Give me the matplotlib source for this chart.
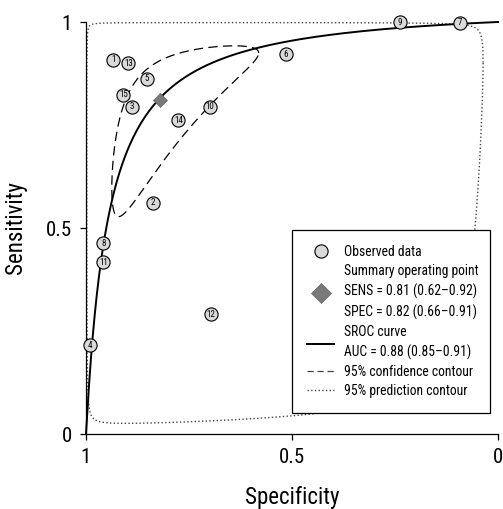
import numpy as np
import matplotlib
matplotlib.use("Agg")
import matplotlib.pyplot as plt
from matplotlib.lines import Line2D
from matplotlib import font_manager as fm

# ---- pick a condensed sans font if one is installed ----
_entries = [(f.name, str(f.stretch)) for f in fm.fontManager.ttflist]
_names = {n for n, _ in _entries}
FONT_FAMILY, FONT_STRETCH, CONDENSED = 'DejaVu Sans', 'normal', False
for cand in ['Liberation Sans Narrow', 'Roboto Condensed', 'Open Sans Condensed',
             'Noto Sans Condensed', 'Arial Narrow', 'Nimbus Sans Narrow']:
    if cand in _names:
        FONT_FAMILY, FONT_STRETCH, CONDENSED = cand, 'normal', True
        break
if not CONDENSED:
    for base in ['Roboto', 'Noto Sans', 'Open Sans', 'DejaVu Sans', 'Lato', 'Inter']:
        for n, st in _entries:
            if n == base and st in ('condensed', 'semi-condensed', '300', '400',
                                     '250', 'extra-condensed'):
                FONT_FAMILY, FONT_STRETCH, CONDENSED = base, st, True
                break
        if CONDENSED:
            break
if not CONDENSED and 'Roboto' in _names:
    FONT_FAMILY = 'Roboto'

plt.rcParams['font.family'] = [FONT_FAMILY, 'DejaVu Sans']
plt.rcParams['font.stretch'] = FONT_STRETCH

# ---- data ----
study_ids = [1, 13, 5, 15, 3, 14, 10, 6, 2, 9, 7, 8, 11, 4, 12]
specificity = [0.934, 0.897, 0.853, 0.909, 0.889, 0.776, 0.699, 0.515, 0.838,
               0.238, 0.092, 0.958, 0.958, 0.990, 0.697]
sensitivity = [0.908, 0.900, 0.862, 0.823, 0.794, 0.762, 0.794, 0.922, 0.561,
               0.999, 0.998, 0.463, 0.417, 0.216, 0.291]

summary_spec = 0.82
summary_sens = 0.81

# SROC model: logit(sens) = sroc_a + sroc_b * logit(1 - spec)
sroc_a = 3.05
sroc_b = 1.03

# contours in logit space (logit FPR, logit sens): radii and correlation
conf_radius_u, conf_radius_v, conf_rho = 1.19, 1.34, 0.79
pred_radius_u, pred_radius_v, pred_rho = 4.8, 5.08, 0.15

tick_vals = [1, 0.5, 0]
tick_labels = ['1', '0.5', '0']

legend_labels = [
    'Observed data',
    'Summary operating point\nSENS = 0.81 (0.62\u20130.92)\nSPEC = 0.82 (0.66\u20130.91)',
    'SROC curve\nAUC = 0.88 (0.85\u20130.91)',
    '95% confidence contour',
    '95% prediction contour',
]


def logit(p):
    return np.log(p / (1 - p))


def expit(x):
    return 1 / (1 + np.exp(-x))


def ellipse(ru, rv, rho, n=400):
    t = np.linspace(0, 2 * np.pi, n)
    u0 = logit(1 - summary_spec)
    v0 = logit(summary_sens)
    u = u0 + ru * np.cos(t)
    v = v0 + rv * (rho * np.cos(t) + np.sqrt(1 - rho ** 2) * np.sin(t))
    return 1 - expit(u), expit(v)


big = 15 if CONDENSED else 13.5
lab = 16.5 if CONDENSED else 14.5
leg_fs = 9.8 if CONDENSED else 8.6
num_fs = 6.5 if CONDENSED else 5.5

fig = plt.figure(figsize=(5.03, 5.09), dpi=100)
ax = fig.add_axes([86 / 503, 1 - 434 / 509, 412 / 503, 412 / 509])

# SROC curve
fpr = np.linspace(1e-5, 1 - 1e-9, 2000)
ax.plot(1 - fpr, expit(sroc_a + sroc_b * logit(fpr)), color='black', lw=1.4,
        zorder=3, clip_on=False)

# confidence contour
cx, cy = ellipse(conf_radius_u, conf_radius_v, conf_rho)
ax.plot(cx, cy, color='black', lw=0.9, dashes=(7.5, 4.2), zorder=3)

# prediction contour
px, py = ellipse(pred_radius_u, pred_radius_v, pred_rho)
ax.plot(px, py, color='#444444', lw=1.0, ls=':', zorder=2, clip_on=False)

# observed data
ax.plot(specificity, sensitivity, 'o', ms=9.5, mfc='#d9d9d9', mec='black',
        mew=0.8, ls='none', zorder=4, clip_on=False)
for sid, sx, sy in zip(study_ids, specificity, sensitivity):
    ax.text(sx, sy, str(sid), fontsize=num_fs, ha='center', va='center',
            zorder=5, clip_on=False)

# summary point
ax.plot([summary_spec], [summary_sens], 'D', ms=7.5, color='#7a7a7a',
        mec='#666666', mew=0.5, zorder=6)

ax.set_xlim(1, 0)
ax.set_ylim(0, 1)
ax.set_xticks(tick_vals)
ax.set_xticklabels(tick_labels)
ax.set_yticks(tick_vals)
ax.set_yticklabels(tick_labels)
ax.tick_params(axis='both', direction='out', length=4, width=0.9,
               labelsize=big, pad=6)
for s in ['top', 'right']:
    ax.spines[s].set_visible(False)
for s in ['left', 'bottom']:
    ax.spines[s].set_linewidth(0.9)

ax.set_xlabel('Specificity', fontsize=lab, labelpad=14)
ax.set_ylabel('Sensitivity', fontsize=lab, labelpad=14)

handles = [
    Line2D([], [], marker='o', ls='none', ms=9.5, mfc='#d9d9d9', mec='black', mew=0.8),
    Line2D([], [], marker='D', ls='none', ms=10.5, color='#7a7a7a', mec='#666666', mew=0.5),
    Line2D([], [], color='black', lw=1.4),
    Line2D([], [], color='#444444', lw=0.9, dashes=(5, 3)),
    Line2D([], [], color='#444444', lw=1.0, ls=':'),
]
leg = ax.legend(handles, legend_labels, loc='upper left',
                bbox_to_anchor=(0.5, 0.056, 0.48, 0.439), mode='expand',
                fontsize=leg_fs, frameon=True, fancybox=False, framealpha=1,
                edgecolor='black', borderpad=1.1, handlelength=2.0,
                handletextpad=0.75, labelspacing=0.35, borderaxespad=0)
leg.get_frame().set_linewidth(0.9)
for t in leg.get_texts():
    t.set_linespacing(1.5)

fig.savefig('out.png', dpi=100)
